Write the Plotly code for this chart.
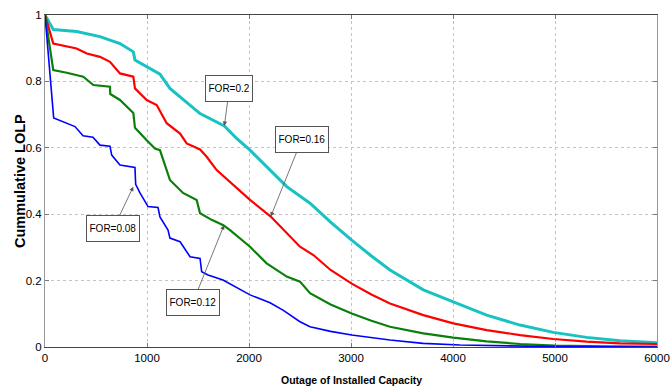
import plotly.graph_objects as go

# ---- data ----
x_for008 = [0, 85, 294, 373, 470, 539, 637, 654, 735, 882, 889, 931, 1010, 1108, 1127, 1206, 1225, 1324, 1422,
            1520, 1536, 1598, 1745, 2010, 2206, 2333, 2500, 2598, 2800, 3007, 3382, 3706, 4069, 4500, 5000, 6000]
y_for008 = [1.0, 0.690, 0.664, 0.636, 0.632, 0.608, 0.605, 0.578, 0.548, 0.541, 0.490, 0.464, 0.423, 0.420, 0.392,
            0.352, 0.328, 0.317, 0.272, 0.267, 0.227, 0.217, 0.202, 0.157, 0.133, 0.111, 0.076, 0.061, 0.047, 0.036,
            0.021, 0.011, 0.006, 0.003, 0.001, 0.0]

x_for012 = [0, 81, 213, 375, 474, 637, 640, 735, 866, 882, 997, 1078, 1127, 1160, 1225, 1353, 1487, 1520, 1634,
            1748, 1814, 2010, 2173, 2370, 2500, 2598, 2800, 3007, 3200, 3382, 3709, 4003, 4330, 4660, 5000, 5500, 6000]
y_for012 = [1.0, 0.834, 0.826, 0.814, 0.789, 0.784, 0.762, 0.744, 0.705, 0.660, 0.623, 0.598, 0.593, 0.563, 0.503,
            0.464, 0.443, 0.403, 0.383, 0.367, 0.352, 0.302, 0.252, 0.212, 0.197, 0.162, 0.128, 0.101, 0.079, 0.061,
            0.041, 0.028, 0.017, 0.009, 0.004, 0.002, 0.001]

x_for016 = [0, 81, 310, 409, 539, 637, 735, 866, 882, 997, 1095, 1193, 1324, 1389, 1520, 1585, 1683, 1814, 2010,
            2213, 2402, 2500, 2631, 2800, 3007, 3200, 3382, 3709, 4003, 4330, 4657, 4983, 5310, 5637, 6000]
y_for016 = [1.0, 0.914, 0.899, 0.884, 0.874, 0.859, 0.824, 0.814, 0.779, 0.744, 0.729, 0.674, 0.643, 0.613, 0.595,
            0.573, 0.533, 0.498, 0.443, 0.393, 0.332, 0.302, 0.277, 0.232, 0.191, 0.158, 0.131, 0.096, 0.071, 0.051,
            0.036, 0.024, 0.016, 0.011, 0.009]

x_for020 = [0, 81, 310, 539, 735, 866, 882, 997, 1127, 1225, 1356, 1520, 1758, 1879, 2010, 2173, 2370, 2598, 2800,
            3007, 3200, 3382, 3709, 4003, 4330, 4657, 4983, 5310, 5637, 6000]
y_for020 = [1.0, 0.956, 0.950, 0.935, 0.914, 0.889, 0.864, 0.844, 0.822, 0.779, 0.744, 0.703, 0.666, 0.628, 0.593,
            0.543, 0.483, 0.433, 0.376, 0.322, 0.274, 0.232, 0.172, 0.136, 0.096, 0.066, 0.044, 0.029, 0.019, 0.013]

x_ticks = [0, 1000, 2000, 3000, 4000, 5000, 6000]
x_tick_labels = ["0", "1000", "2000", "3000", "4000", "5000", "6000"]
y_ticks = [0, 0.2, 0.4, 0.6, 0.8, 1.0]
y_tick_labels = ["0", "0.2", "0.4", "0.6", "0.8", "1"]

labels = ["FOR=0.2", "FOR=0.16", "FOR=0.08", "FOR=0.12"]
label_tips_x = [1758, 2213, 866, 1755]
label_tips_y = [0.666, 0.393, 0.483, 0.367]

x_title = "Outage of Installed Capacity"
y_title = "Cummulative LOLP"

FONT = "Liberation Sans, Arial, sans-serif"

fig = go.Figure()
fig.add_trace(go.Scatter(x=x_for020, y=y_for020, mode="lines", line=dict(color="#19c2c2", width=3)))
fig.add_trace(go.Scatter(x=x_for016, y=y_for016, mode="lines", line=dict(color="#ff0000", width=2.2)))
fig.add_trace(go.Scatter(x=x_for012, y=y_for012, mode="lines", line=dict(color="#0a800a", width=2.2)))
fig.add_trace(go.Scatter(x=x_for008, y=y_for008, mode="lines", line=dict(color="#0000ff", width=1.6)))

offsets = [(5, -37), (31, -77), (-20, 42), (-31, 77)]
for t, tx, ty, (ax, ay) in zip(labels, label_tips_x, label_tips_y, offsets):
    fig.add_annotation(x=tx, y=ty, text=t, showarrow=True, ax=ax, ay=ay,
                       arrowhead=2, arrowsize=1.1, arrowwidth=0.8, arrowcolor="#555",
                       height=20,
                       bgcolor="white", bordercolor="#555", borderwidth=1, borderpad=2.5,
                       font=dict(family=FONT, size=10, color="black"))

# axis titles placed as paper annotations for exact positioning
fig.add_annotation(xref="paper", yref="paper", x=0.5, y=0, yshift=-33, showarrow=False,
                   text="<b>" + x_title + "</b>", xanchor="center", yanchor="middle",
                   font=dict(family=FONT, size=10.5, color="black"))
fig.add_annotation(xref="paper", yref="paper", x=0, y=0.5, xshift=-25, showarrow=False,
                   text="<b>" + y_title + "</b>", textangle=-90, xanchor="center", yanchor="middle",
                   font=dict(family=FONT, size=14.5, color="black"))

fig.update_layout(
    width=670, height=389,
    margin=dict(l=45, r=13, t=15, b=42),
    paper_bgcolor="white", plot_bgcolor="white",
    showlegend=False,
    font=dict(family=FONT, size=11, color="black"),
)
fig.update_xaxes(range=[0, 6000], tickvals=x_ticks, ticktext=x_tick_labels,
                 tickfont=dict(size=11.5), automargin=False,
                 showgrid=True, gridcolor="#c4c4c4", griddash="dot", gridwidth=1,
                 showline=True, linecolor="#444", linewidth=1, mirror="ticks",
                 ticks="inside", ticklen=4, tickcolor="#777", zeroline=False)
fig.update_yaxes(range=[0, 1], tickvals=y_ticks, ticktext=y_tick_labels,
                 tickfont=dict(size=11.5), automargin=False,
                 showgrid=True, gridcolor="#c4c4c4", griddash="dot", gridwidth=1,
                 showline=True, linecolor="#999", linewidth=1, mirror="ticks",
                 ticks="inside", ticklen=4, tickcolor="#777", zeroline=False)

fig.write_html("out.html", config={"displayModeBar": False},
               post_script="document.body.style.margin='0';document.body.style.overflow='hidden';")
